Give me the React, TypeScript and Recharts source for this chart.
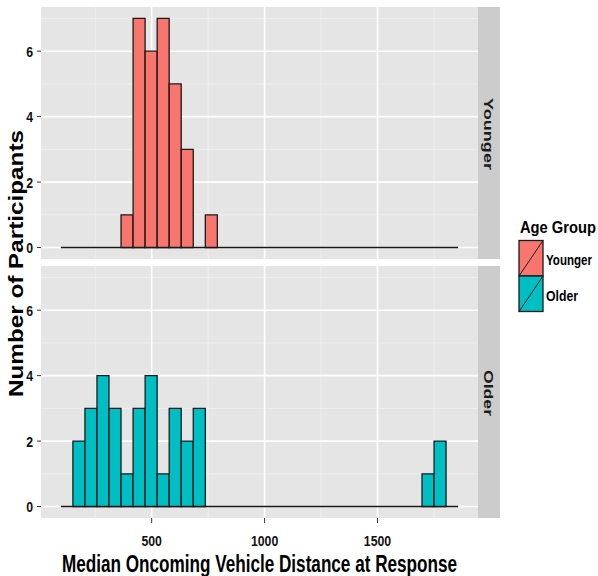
import { ComposedChart, Bar, XAxis, YAxis, CartesianGrid, ReferenceLine } from "recharts";

// histogram bins (distance units), 33 equal bins
const BIN_START = 98;
const BIN_WIDTH = 53.3;

const youngerCounts = [
  0, 0, 0, 0, 0, 1, 7, 6, 7, 5, 3, 0, 1, 0, 0, 0, 0,
  0, 0, 0, 0, 0, 0, 0, 0, 0, 0, 0, 0, 0, 0, 0, 0,
];
const olderCounts = [
  0, 2, 3, 4, 3, 1, 3, 4, 1, 3, 2, 3, 0, 0, 0, 0, 0,
  0, 0, 0, 0, 0, 0, 0, 0, 0, 0, 0, 0, 0, 1, 2, 0,
];

const xTicks = [500, 1000, 1500];
const xMinor = [250, 750, 1250, 1750];
const yTicks = [0, 2, 4, 6];
const yMinor = [1, 3, 5, 7];

const groups = ["Younger", "Older"];
const legendTitle = "Age Group";
const xTitle = "Median Oncoming Vehicle Distance at Response";
const yTitle = "Number of Participants";

const FILL: Record<string, string> = { Younger: "#F8766D", Older: "#00BFC4" };
const FONT = "'Liberation Sans', Arial, sans-serif";
const INK = "#1a1a1a";

const binEnd = BIN_START + BIN_WIDTH * youngerCounts.length;
const span = binEnd - BIN_START;
const X_DOMAIN: [number, number] = [BIN_START - span * 0.05, binEnd + span * 0.05];
const Y_DOMAIN: [number, number] = [-0.35, 7.35];

function toRows(counts: number[]) {
  return counts.map((count, i) => ({ mid: BIN_START + BIN_WIDTH * (i + 0.5), count }));
}

const tickText = { fill: "#111", fontSize: 15, fontWeight: 700, fontFamily: FONT };

function XTick(props: any) {
  const { x, y, payload } = props;
  return (
    <g transform={`translate(${x},${y}) scale(0.82,1)`}>
      <text textAnchor="middle" dy="0.71em" style={tickText}>
        {payload.value}
      </text>
    </g>
  );
}

function YTick(props: any) {
  const { x, y, payload } = props;
  return (
    <g transform={`translate(${x},${y}) scale(0.82,1)`}>
      <text textAnchor="end" dy="0.36em" style={tickText}>
        {payload.value}
      </text>
    </g>
  );
}

function Panel({ group, counts, showX }: { group: string; counts: number[]; showX: boolean }) {
  return (
    <ComposedChart
      width={478}
      height={showX ? 282 : 259}
      data={toRows(counts)}
      margin={{ top: showX ? 0 : 7, right: 0, bottom: 0, left: 0 }}
      barCategoryGap={0}
      barGap={0}
    >
      <CartesianGrid
        fill="#E5E5E5"
        stroke="#F2F2F2"
        strokeWidth={0.8}
        horizontalValues={yMinor}
        verticalValues={xMinor}
      />
      <CartesianGrid stroke="#FFFFFF" strokeWidth={1.6} horizontalValues={yTicks} verticalValues={xTicks} />
      <XAxis
        type="number"
        dataKey="mid"
        domain={X_DOMAIN}
        ticks={xTicks}
        interval={0}
        allowDataOverflow
        hide={!showX}
        height={30}
        axisLine={false}
        tickSize={5}
        tickMargin={12}
        tickLine={{ stroke: "#333" }}
        tick={<XTick />}
      />
      <YAxis
        type="number"
        domain={Y_DOMAIN}
        ticks={yTicks}
        interval={0}
        allowDataOverflow
        width={41}
        axisLine={false}
        tickSize={4}
        tickMargin={4}
        tickLine={{ stroke: "#333" }}
        tick={<YTick />}
      />
      <Bar dataKey="count" fill={FILL[group]} stroke={INK} strokeWidth={1.3} isAnimationActive={false} />
      <ReferenceLine
        segment={[
          { x: BIN_START, y: 0 },
          { x: binEnd, y: 0 },
        ]}
        stroke={INK}
        strokeWidth={1.5}
      />
    </ComposedChart>
  );
}

// legend label: small nominal font, stretched vertically to the reference glyph height
function LegendText({ x, y, size, stretch, len, children }: any) {
  return (
    <g transform={`translate(${x},${y}) scale(1,${stretch})`}>
      <text
        textLength={len}
        lengthAdjust="spacingAndGlyphs"
        fontFamily={FONT}
        fontWeight={700}
        fontSize={size}
        fill="#000"
      >
        {children}
      </text>
    </g>
  );
}

export default function App() {
  const panelTops = [0, 266];
  const stripTops = [7, 266];
  const stripLen = [72, 46];
  return (
    <div style={{ position: "absolute", left: 0, top: 0, width: 598, height: 576, background: "#fff", overflow: "hidden" }}>
      {groups.map((g, i) => (
        <div key={g} style={{ position: "absolute", left: 0, top: panelTops[i] }}>
          <Panel group={g} counts={i === 0 ? youngerCounts : olderCounts} showX={i === 1} />
        </div>
      ))}
      <svg width={598} height={576} style={{ position: "absolute", left: 0, top: 0, pointerEvents: "none" }}>
        {groups.map((g, i) => (
          <g key={g}>
            <rect x={478} y={stripTops[i]} width={22} height={252} fill="#CCCCCC" />
            <text
              transform={`translate(483.5, ${stripTops[i] + 127}) rotate(90)`}
              textAnchor="middle"
              textLength={stripLen[i]}
              lengthAdjust="spacingAndGlyphs"
              fontFamily={FONT}
              fontWeight={700}
              fontSize={12}
              fill={INK}
            >
              {g}
            </text>
          </g>
        ))}
        <text
          transform="translate(23, 263.5) rotate(-90)"
          textAnchor="middle"
          textLength={267}
          lengthAdjust="spacingAndGlyphs"
          fontFamily={FONT}
          fontWeight={700}
          fontSize={19.5}
          fill="#000"
        >
          {yTitle}
        </text>
        <text
          x={259.5}
          y={572}
          textAnchor="middle"
          textLength={395}
          lengthAdjust="spacingAndGlyphs"
          fontFamily={FONT}
          fontWeight={700}
          fontSize={23}
          fill="#000"
        >
          {xTitle}
        </text>
        <LegendText x={520} y={232.5} size={14.8} stretch={1.08} len={76}>
          {legendTitle}
        </LegendText>
        {groups.map((g, i) => (
          <g key={g}>
            <rect x={519} y={240.5 + i * 35.5} width={24} height={35.5} fill={FILL[g]} stroke={INK} strokeWidth={1.3} />
            <line x1={519} y1={276 + i * 35.5} x2={543} y2={240.5 + i * 35.5} stroke={INK} strokeWidth={1} />
            <LegendText
              x={546}
              y={265 + i * 36}
              size={i === 0 ? 11.2 : 12.2}
              stretch={i === 0 ? 1.34 : 1.23}
              len={i === 0 ? 46 : 32}
            >
              {g}
            </LegendText>
          </g>
        ))}
      </svg>
    </div>
  );
}
